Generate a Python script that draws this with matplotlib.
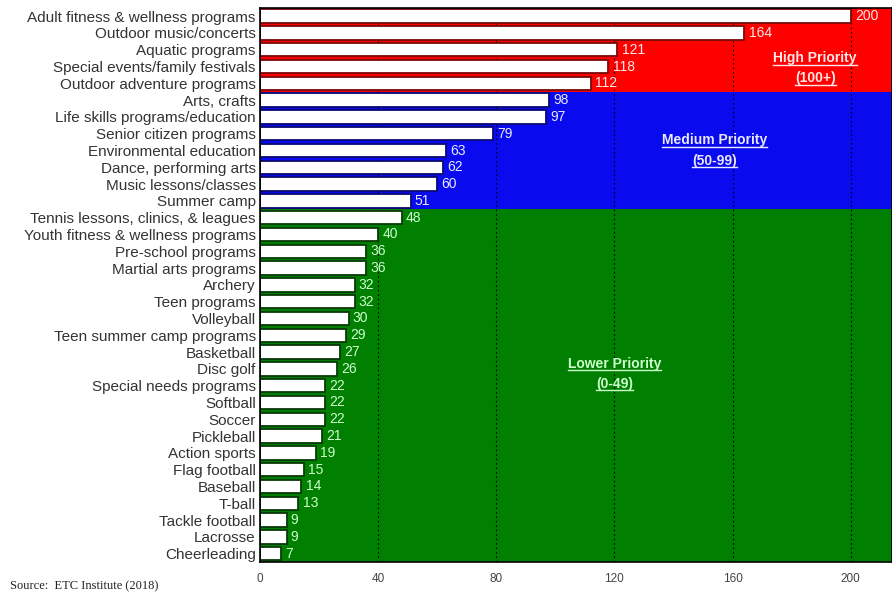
import numpy as np
import matplotlib.pyplot as plt
from matplotlib.lines import Line2D

plt.rcParams['font.family'] = ['Liberation Sans', 'DejaVu Sans']

programs = ['Adult fitness & wellness programs', 'Outdoor music/concerts', 'Aquatic programs',
            'Special events/family festivals', 'Outdoor adventure programs', 'Arts, crafts',
            'Life skills programs/education', 'Senior citizen programs', 'Environmental education',
            'Dance, performing arts', 'Music lessons/classes', 'Summer camp',
            'Tennis lessons, clinics, & leagues', 'Youth fitness & wellness programs',
            'Pre-school programs', 'Martial arts programs', 'Archery', 'Teen programs',
            'Volleyball', 'Teen summer camp programs', 'Basketball', 'Disc golf',
            'Special needs programs', 'Softball', 'Soccer', 'Pickleball', 'Action sports',
            'Flag football', 'Baseball', 'T-ball', 'Tackle football', 'Lacrosse', 'Cheerleading']
scores = [200, 164, 121, 118, 112, 98, 97, 79, 63, 62, 60, 51, 48, 40, 36, 36, 32, 32,
          30, 29, 27, 26, 22, 22, 22, 21, 19, 15, 14, 13, 9, 9, 7]
x_ticks = [0, 40, 80, 120, 160, 200]

# priority groups: (first row, last row, background, bar edge, label colour, title, range, x, y)
groups = [
    (0, 4, '#ff0000', '#7a0a0a', '#ffe8e8', 'High Priority', '(100+)', 188, 3.1),
    (5, 11, '#0a0aef', '#0a0a70', '#e8e8ff', 'Medium Priority', '(50-99)', 154, 8.0),
    (12, 32, '#007f00', '#0a3a0a', '#ccffcc', 'Lower Priority', '(0-49)', 120, 21.3),
]

fig = plt.figure(figsize=(8.92, 5.96), dpi=100)
ax = fig.add_axes([0.2915, 0.057, 0.7085, 0.93])

y = np.arange(len(programs))
bar_edges = []
label_colors = []
for first, last, bg, edge, lab, *_ in groups:
    ax.axhspan(first - 0.5, last + 0.5, color=bg, zorder=0.5, lw=0)
    bar_edges += [edge] * (last - first + 1)
    label_colors += [lab] * (last - first + 1)

ax.barh(y, scores, height=0.8, color='white', edgecolor=bar_edges, linewidth=1.3, zorder=2)
for yi, v, c in zip(y, scores, label_colors):
    ax.annotate(str(v), (v, yi), xytext=(3, 0), textcoords='offset points',
                va='center', ha='left', fontsize=10, color=c, zorder=3)

ax.set_xlim(0, 214)
ax.set_ylim(len(programs) - 0.5, -0.5)
ax.set_yticks(y)
ax.set_yticklabels(programs, fontsize=11, color='#333333')
ax.set_xticks(x_ticks)
ax.set_xticklabels([str(t) for t in x_ticks], fontsize=8.5, color='#444444')
ax.tick_params(length=0, pad=3)
ax.tick_params(axis='x', pad=8)
ax.grid(axis='x', color='black', linestyle=(0, (1.5, 2.5)), linewidth=0.8)
for s in ax.spines.values():
    s.set_color('black')
    s.set_linewidth(1.2)

title_texts = []
for first, last, bg, edge, lab, title, rng, tx, ty in groups:
    t1 = ax.text(tx, ty - 0.6, title, ha='center', va='center', fontsize=10,
                 fontweight='bold', color=lab, zorder=4)
    t2 = ax.text(tx, ty + 0.6, rng, ha='center', va='center', fontsize=10,
                 fontweight='bold', color=lab, zorder=4)
    title_texts += [(t1, lab), (t2, lab)]

# underline the priority titles
fig.canvas.draw()
r = fig.canvas.get_renderer()
inv = fig.transFigure.inverted()
for t, c in title_texts:
    bb = t.get_window_extent(r)
    (x0, y0), (x1, _) = inv.transform([(bb.x0, bb.y0), (bb.x1, bb.y1)])
    fig.add_artist(Line2D([x0, x1], [y0 + 0.001, y0 + 0.001], color=c, lw=1,
                          transform=fig.transFigure, zorder=5))

fig.text(0.011, 0.012, 'Source:  ETC Institute (2018)', fontsize=9,
         family='Liberation Serif', color='#222222')

fig.savefig('out.png', dpi=100)
